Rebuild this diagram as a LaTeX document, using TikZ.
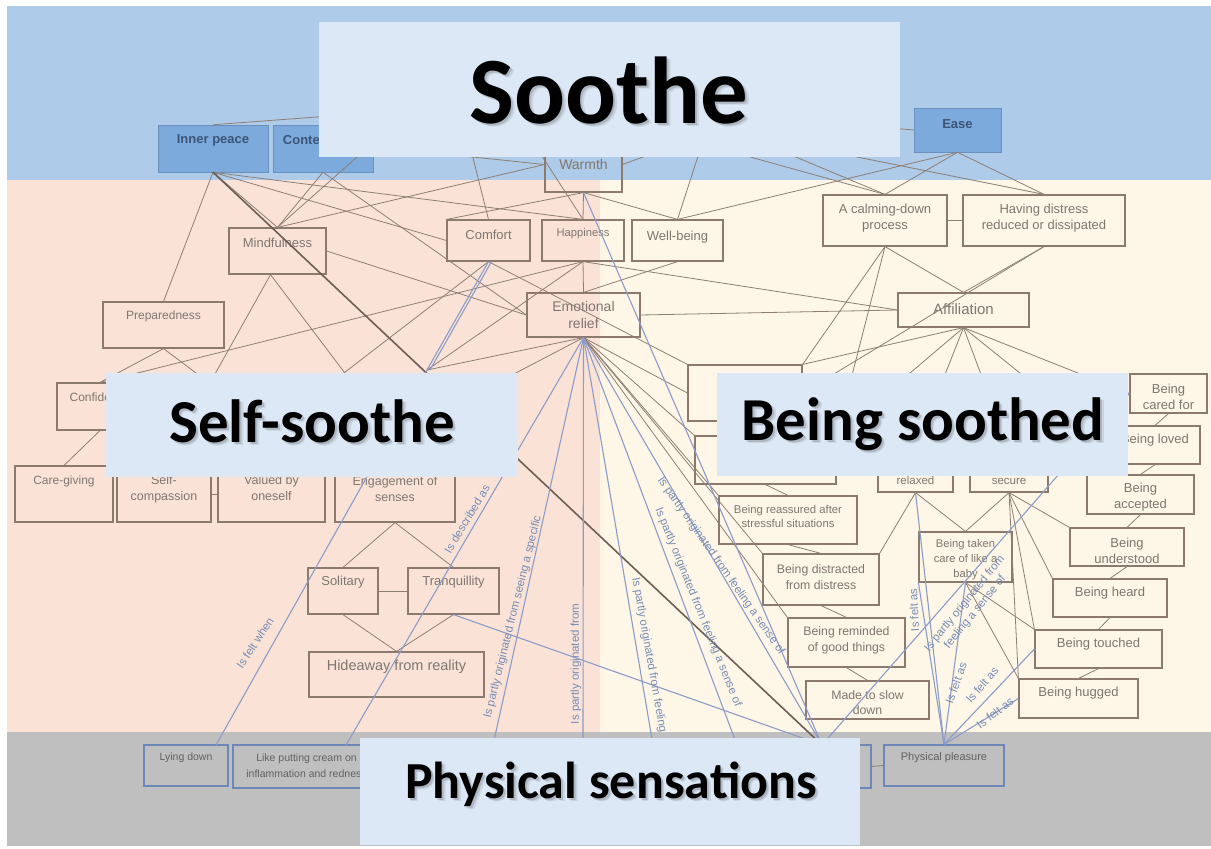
\documentclass[tikz,border=0pt]{standalone}
\usepackage{fontspec}
\setmainfont{Liberation Sans}
\newfontfamily\headfont{Carlito}
\usetikzlibrary{calc}

\definecolor{bandblue}{HTML}{AECBE9}
\definecolor{bandsalmon}{HTML}{FAE3D6}
\definecolor{bandcream}{HTML}{FEF6E6}
\definecolor{bandgray}{HTML}{BFBFBF}
\definecolor{headfill}{HTML}{DCE8F5}
\definecolor{topfill}{HTML}{7DAADC}
\definecolor{topink}{HTML}{3C5578}
\definecolor{boxline}{HTML}{8C7A6E}
\definecolor{boxink}{HTML}{7F7670}
\definecolor{baseedge}{HTML}{6E87B9}
\definecolor{tiebrown}{HTML}{8E7F74}
\definecolor{tiedark}{HTML}{6E5E55}
\definecolor{tieblue}{HTML}{8C9BC8}
\definecolor{labelblue}{HTML}{788CB4}

\tikzset{
  box/.style={draw=boxline, line width=1.2pt, inner sep=0pt},
  topbox/.style={fill=topfill, draw=topfill!85!black, line width=0.5pt, inner sep=0pt},
  basebox/.style={draw=baseedge, line width=1.2pt, inner sep=0pt},
  boxtext/.style={text=boxink, inner sep=0pt, align=center, font=\fontsize{13}{16}\selectfont},
  fs/.style 2 args={font=\fontsize{#1}{#2}\selectfont},
  toptext/.style={text=topink, font=\bfseries\fontsize{13}{16}\selectfont},
  basetext/.style={text=black!62},
  tie/.style={draw=tiebrown, line width=0.8pt},
  tiedk/.style={draw=tiedark, line width=1.6pt},
  tiebl/.style={draw=tieblue, line width=1.1pt},
  tielabel/.style={text=labelblue, inner sep=0pt, align=center, font=\fontsize{11.5}{13.5}\selectfont},
  headbox/.style={fill=headfill, inner sep=0pt},
}

% box: style, [text style], (name), (x1,y1), (x2,y2), (text y), text
\def\bx#1[#2](#3)(#4,#5)(#6,#7)(#8)#9{%
  \node[#1, minimum width={#6-#4}, minimum height={#7-#5}] (#3) at ({(#4+#6)/2},{(#5+#7)/2}) {};
  \node[boxtext,#2] (#3-l) at ({(#4+#6)/2},#8) {#9};}
% heading: (name), (x1,y1), (x2,y2), (base point), size, text
\def\hd(#1)(#2,#3)(#4,#5)(#6,#7)#8#9{%
  \node[headbox, minimum width={#4-#2}, minimum height={#5-#3}] (#1) at ({(#2+#4)/2},{(#3+#5)/2}) {};
  \node[anchor=base, inner sep=0pt, text=black, opacity=0.08, font=\headfont\bfseries\fontsize{#8}{#8}\selectfont] (#1-s2) at ({#6+3.5},{#7+3.5}) {#9};
  \node[anchor=base, inner sep=0pt, text=black, opacity=0.14, font=\headfont\bfseries\fontsize{#8}{#8}\selectfont] (#1-s) at ({#6+2},{#7+2}) {#9};
  \node[anchor=base, inner sep=0pt, text=black, font=\headfont\bfseries\fontsize{#8}{#8}\selectfont] (#1-l) at (#6,#7) {#9};}

\begin{document}
\begin{tikzpicture}[x=1pt, y=-1pt]
	%%%%% BANDS %%%%%
	\useasboundingbox (0,0) rectangle (1211,849);
	\fill[white] (0,0) rectangle (1211,849);
	\fill[bandblue] (7,6) rectangle (1211,180);
	\fill[bandsalmon] (7,180) rectangle (600,732);
	\fill[bandcream] (600,180) rectangle (1211,732);
	\fill[bandgray] (7,732) rectangle (1211,846);

	%%%%% BOXES %%%%%
	\bx{topbox}[toptext](inpeace)(158,125)(268,172)(140){Inner peace}
	\bx{topbox}[toptext](content)(273,125)(373,172)(140){Contentment}
	\bx{topbox}[toptext](ease)(914,108)(1001,152)(124){Ease}
	\bx{box}[fs={14}{17}](warmth)(545,137)(622,192)(164){Warmth}

	\bx{box}[](mindful)(229,228)(326,274)(243){Mindfulness}
	\bx{box}[](comfort)(447,220)(530,261)(235){Comfort}
	\bx{box}[fs={11.2}{14}](happy)(542,220)(624,261)(234){Happiness}
	\bx{box}[](wellbeing)(632,220)(723,261)(237){Well-being}
	\bx{box}[fs={14}{17}](emorelief)(527,293)(640,337)(315){Emotional\\relief}
	\bx{box}[fs={12}{15}](prepared)(103,302)(224,348)(316){Preparedness}
	\bx{box}[fs={12}{15}](confid)(57,383)(143,430)(397){Confidence}
	\bx{box}[fs={12}{15}](caregiving)(15,466)(113,522)(481){Care-giving}
	\bx{box}[fs={12.5}{16}](selfcomp)(117,466)(211,522)(489){Self-\\compassion}
	\bx{box}[fs={12.5}{16}](valued)(218,466)(325,522)(488){Valued by\\oneself}
	\bx{box}[fs={12.5}{16}](engage)(335,440)(455,522)(489){Engagement of\\senses}
	\bx{box}[](solitary)(308,568)(378,614)(582){Solitary}
	\bx{box}[](tranq)(408,568)(499,614)(582){Tranquillity}
	\bx{box}[fs={14.5}{17}](hideaway)(309,652)(484,697)(667){Hideaway from reality}

	\bx{box}[](calming)(823,195)(947,246)(218){A calming-down\\process}
	\bx{box}[](distress)(963,195)(1125,246)(218){Having distress\\reduced or dissipated}
	\bx{box}[fs={15}{18}](affil)(898,293)(1029,327)(309){Affiliation}
	\bx{box}[fs={12}{14}](beingaf)(688,365)(802,421)(386){Being\\affirmed}
	\bx{box}[fs={12}{15}](beingb)(695,436)(836,484)(457){Being comforted\\by others}
	\bx{box}[fs={11.5}{15}](relaxed)(878,450)(953,492)(473){Feeling\\relaxed}
	\bx{box}[fs={11.5}{15}](secure)(970,450)(1048,492)(473){Feeling\\secure}
	\bx{box}[](caredfor)(1130,374)(1207,413)(397){Being\\cared for}
	\bx{box}[](loved)(1110,426)(1200,464)(440){Being loved}
	\bx{box}[](accepted)(1087,475)(1194,514)(497){Being\\accepted}
	\bx{box}[](understood)(1070,528)(1184,566)(551){Being\\understood}
	\bx{box}[](heard)(1053,579)(1167,617)(593){Being heard}
	\bx{box}[](touched)(1035,630)(1162,668)(644){Being touched}
	\bx{box}[](hugged)(1019,679)(1138,718)(693){Being hugged}
	\bx{box}[fs={11.3}{14}](reassured)(719,496)(857,544)(516){Being reassured after\\stressful situations}
	\bx{box}[fs={12.3}{16}](distracted)(763,554)(879,605)(577){Being distracted\\from distress}
	\bx{box}[fs={12.3}{16}](reminded)(788,618)(905,667)(640){Being reminded\\of good things}
	\bx{box}[fs={12.3}{15}](slowdown)(806,681)(929,719)(703){Made to slow\\down}
	\bx{box}[fs={11.2}{15}](babycare)(919,532)(1012,582)(560){Being taken\\care of like a\\baby}

	\bx{basebox}[basetext,fs={10.5}{13}](lying)(144,745)(228,786)(758){Lying down}
	\bx{basebox}[basetext,fs={10.5}{16}](cream)(233,745)(380,788)(766){Like putting cream on\\inflammation and redness}
	\bx{basebox}[](warmsense)(690,745)(871,788)(758){}
	\bx{basebox}[basetext,fs={11}{14}](pleasure)(884,745)(1004,786)(758){Physical pleasure}

	%%%%% HIDDEN ENDS %%%%%
	\coordinate (s0) at (890,128);
	\coordinate (s1) at (330,116);
	\coordinate (s2) at (471,150);
	\coordinate (s3) at (425,152);
	\coordinate (s4) at (538,150);
	\coordinate (s5) at (365,150);
	\coordinate (s6) at (662,150);
	\coordinate (s7) at (700,150);
	\coordinate (s8) at (725,150);
	\coordinate (s9) at (779,150);
	\coordinate (s10) at (822,150);
	\coordinate (hub1) at (427,370);
	\coordinate (hub2) at (200,376);
	\coordinate (hub3) at (340,376);
	\coordinate (hub4) at (510,376);
	\coordinate (hubB) at (822,745);
	\coordinate (e1) at (216,745);
	\coordinate (e2) at (346,745);
	\coordinate (e3) at (493,745);
	\coordinate (e4) at (583,745);
	\coordinate (e5) at (653,745);
	\coordinate (e6) at (737,745);

	%%%%% TIES %%%%%
	\draw[tie] (inpeace.north) -- (s1);
	\draw[tie] (ease.west) -- (s0);
	\draw[tie] (s2) -- (comfort.north);
	\draw[tie] (s3) -- (warmth.west);
	\draw[tie] (s4) -- (happy.north);
	\draw[tie] (s5) -- (mindful.north);
	\draw[tie] (s6) -- (warmth.east);
	\draw[tie] (s7) -- (wellbeing.north);
	\draw[tie] (s8) -- (calming.north);
	\draw[tie] (s9) -- (calming.north);
	\draw[tie] (s10) -- (distress.north);

	\draw[tie] (inpeace.south) -- (prepared.north);
	\draw[tie] (inpeace.south) -- (mindful.north);
	\draw[tie] (inpeace.south) -- (happy.north);
	\draw[tie] (inpeace.south) -- (comfort.west);
	\draw[tie] (content.south) -- (mindful.north);
	\draw[tie] (content.south) -- (emorelief.west);
	\draw[tie] (warmth.west) -- (mindful.north);
	\draw[tie] (warmth.south) -- (happy.north);
	\draw[tie] (warmth.south) -- (comfort.north west);
	\draw[tie] (warmth.south) -- (wellbeing.north);
	\draw[tie] (ease.south) -- (wellbeing.north);
	\draw[tie] (ease.south) -- (calming.north);
	\draw[tie] (ease.south) -- (distress.north);
	\draw[tie] (calming.east) -- (distress.west);
	\draw[tie] (calming.south) -- (affil.north);
	\draw[tie] (distress.south) -- (affil.north);
	\draw[tie] (calming.south) -- (beingaf.north east);
	\draw[tie] (calming.south) -- (beingb.north east);
	\draw[tie] (distress.south) -- (beingaf.east);
	\draw[tie] (affil.south) -- (beingaf.north east);
	\draw[tie] (affil.south) -- (beingb.north east);
	\draw[tie] (affil.south) -- (relaxed.north);
	\draw[tie] (affil.south) -- (secure.north);
	\draw[tie] (affil.south) -- (loved.west);
	\draw[tie] (affil.south) -- (caredfor.west);
	\draw[tie] (emorelief.east) -- (affil.west);
	\draw[tie] (happy.south) -- (affil.west);
	\draw[tie] (happy.south) -- (emorelief.north);
	\draw[tie] (wellbeing.south) -- (emorelief.north);
	\draw[tie] (mindful.east) -- (emorelief.west);
	\draw[tie] (happy.south) -- (confid.north);
	\draw[tie] (happy.south) -- (hub1);
	\draw[tie] (comfort.south) -- (hub3);
	\draw[tie] (emorelief.south) -- (hub1);
	\draw[tie] (emorelief.south) -- (hub4);
	\draw[tie] (comfort.south) -- (beingaf.north west);
	\draw[tie] (emorelief.south) -- (beingaf.west);
	\draw[tie] (emorelief.south) -- (beingb.north west);
	\draw[tie] (emorelief.south) -- (reassured.north west);
	\draw[tie] (emorelief.south) -- (distracted.north west);
	\draw[tie] (emorelief.south) -- (reminded.north west);
	\draw[tie] (prepared.south) -- (confid.north);
	\draw[tie] (prepared.south) -- (hub2);
	\draw[tie] ($(mindful.south)+(-7,0)$) -- (selfcomp.north);
	\draw[tie] ($(mindful.south)+(-7,0)$) -- (engage.north);
	\draw[tie] (confid.south) -- (caregiving.north);
	\draw[tie] (selfcomp.east) -- (valued.west);
	\draw[tie] (engage.south) -- (solitary.north);
	\draw[tie] (engage.south) -- (tranq.north);
	\draw[tie] (solitary.east) -- (tranq.west);
	\draw[tie] (solitary.south) -- (hideaway.north);
	\draw[tie] (tranq.south) -- (hideaway.north);
	\draw[tie] (beingaf.south) -- (beingb.north);
	\draw[tie] (beingb.south) -- (reassured.north);
	\draw[tie] (reassured.south) -- (distracted.north);
	\draw[tie] (distracted.south) -- (reminded.north);
	\draw[tie] (reminded.south) -- (slowdown.north);
	\draw[tie] (caredfor.south) -- (loved.north);
	\draw[tie] (loved.south) -- (accepted.north);
	\draw[tie] (accepted.south) -- (understood.north);
	\draw[tie] (understood.south) -- (heard.north);
	\draw[tie] (heard.south) -- (touched.north);
	\draw[tie] (touched.south) -- (hugged.north);
	\draw[tie] (relaxed.south) -- (babycare.north);
	\draw[tie] (secure.south) -- (babycare.north);
	\draw[tie] (relaxed.south) -- (distracted.north east);
	\draw[tie] (secure.south) -- (understood.north west);
	\draw[tie] (secure.south) -- (heard.north west);
	\draw[tie] (secure.south) -- (touched.north west);
	\draw[tie] (secure.south) -- (hugged.north west);
	\draw[tie] (babycare.south) -- (touched.north west);
	\draw[tie] (babycare.south) -- (hugged.north west);
	\draw[tie] (warmsense.east) -- (pleasure.west);

	\draw[tiedk] (inpeace.south) -- (hubB);

	%%%%% BLUE TIES %%%%%
	\draw[tiebl] (hub1) -- (e1);
	\draw[tiebl] (emorelief.south) -- (e2);
	\draw[tiebl] (emorelief.south) -- (e3);
	\draw[tiebl] (emorelief.south) -- (e4);
	\draw[tiebl] (emorelief.south) -- (e5);
	\draw[tiebl] (emorelief.south) -- (e6);
	\draw[tiebl] (emorelief.south) -- (hubB);
	\draw[tiebl] (warmth.south) -- (hubB);
	\draw[tiebl] (tranq.south) -- (hubB);
	\draw[tiebl] (comfort.south) -- (hub1);
	\draw[tiebl] ($(comfort.south)+(3,0)$) -- ($(hub1)+(3,0)$);
	\draw[tiebl] (hubB) -- (caredfor.west);
	\draw[tiebl] (relaxed.south) -- (pleasure.north);
	\draw[tiebl] (babycare.south west) -- (pleasure.north);
	\draw[tiebl] (babycare.south) -- (pleasure.north);
	\draw[tiebl] (touched.west) -- (pleasure.north);
	\draw[tiebl] (hugged.west) -- (pleasure.north);

	\node[tielabel, rotate=57] (lb1) at (255,643) {Is felt when};
	\node[tielabel, rotate=59] (lb2) at (467,519) {Is described as};
	\node[tielabel, rotate=76] (lb3) at (513,617) {Is partly originated from seeing a specific};
	\node[tielabel, rotate=90] (lb4) at (576,664) {Is partly originated from};
	\node[tielabel, rotate=-80] (lb5) at (649,655) {Is partly originated from feeling};
	\node[tielabel, rotate=-68] (lb6) at (698,607) {Is partly originated from feeling a sense of};
	\node[tielabel, rotate=-55] (lb7) at (721,566) {Is partly originated from feeling a sense of};
	\node[tielabel, rotate=93] (lb8) at (914,610) {Is felt as};
	\node[tielabel, rotate=51] (lb9) at (970,608) {Is partly originated from\\feeling a sense of};
	\node[tielabel, rotate=70] (lb10) at (956,683) {Is felt as};
	\node[tielabel, rotate=49] (lb11) at (982,685) {Is felt as};
	\node[tielabel, rotate=37] (lb12) at (995,713) {Is felt as};

	%%%%% HEADINGS %%%%%
	\hd(soothe)(319,22)(900,157)(609,123){95}{Soothe}
	\hd(selfsoothe)(106,373)(518,477)(312,442){61}{Self-soothe}
	\hd(beingsoothed)(717,373)(1128,476)(923,440){61}{Being soothed}
	\hd(physens)(360,738)(860,845)(611,798){52}{Physical sensations}
\end{tikzpicture}
\end{document}
